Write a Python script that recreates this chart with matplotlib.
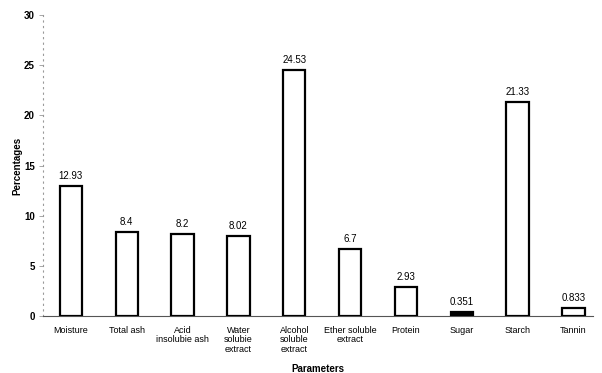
import matplotlib
matplotlib.use('Agg')
import matplotlib.pyplot as plt

plt.rcParams['font.family'] = ['Liberation Sans', 'DejaVu Sans']

categories = ['Moisture', 'Total ash', 'Acid\ninsolubie ash', 'Water\nsolubie\nextract',
              'Alcohol\nsoluble\nextract', 'Ether soluble\nextract', 'Protein', 'Sugar',
              'Starch', 'Tannin']
values = [12.93, 8.4, 8.2, 8.02, 24.53, 6.7, 2.93, 0.351, 21.33, 0.833]
value_labels = ['12.93', '8.4', '8.2', '8.02', '24.53', '6.7', '2.93', '0.351', '21.33', '0.833']
yticks = [0, 5, 10, 15, 20, 25, 30]

fig = plt.figure(figsize=(6.02, 3.73), dpi=100)
ax = fig.add_axes([43 / 602, 57 / 373, 550 / 602, 301 / 373])

x = list(range(len(categories)))
faces = ['black' if c == 'Sugar' else 'white' for c in categories]
ax.bar(x, values, width=0.4, color=faces, edgecolor='black', linewidth=1.6, zorder=3)

for xi, v, lab in zip(x, values, value_labels):
    ax.text(xi, v + 0.5, lab, ha='center', va='bottom', fontsize=7)

ax.set_xlim(-0.5, 9.35)
ax.set_ylim(0, 30)
ax.set_yticks(yticks)
ax.set_xticks(x)
ax.set_xticklabels(categories, fontsize=6.5, linespacing=1.1)
ax.tick_params(axis='y', labelsize=7, length=3, color='#999999', width=0.6, pad=3)
ax.tick_params(axis='x', length=0, pad=7)
for t in ax.get_yticklabels():
    t.set_fontweight('bold')

ax.spines['top'].set_visible(False)
ax.spines['right'].set_visible(False)
ax.spines['left'].set_linestyle((0, (1, 4)))
ax.spines['left'].set_color('#999999')
ax.spines['left'].set_linewidth(0.8)
ax.spines['bottom'].set_color('#555555')
ax.spines['bottom'].set_linewidth(0.8)

ax.set_ylabel('Percentages', fontsize=7, fontweight='bold', labelpad=1)
ax.set_xlabel('Parameters', fontsize=7, fontweight='bold', labelpad=7)

fig.savefig('out.png', dpi=100)
